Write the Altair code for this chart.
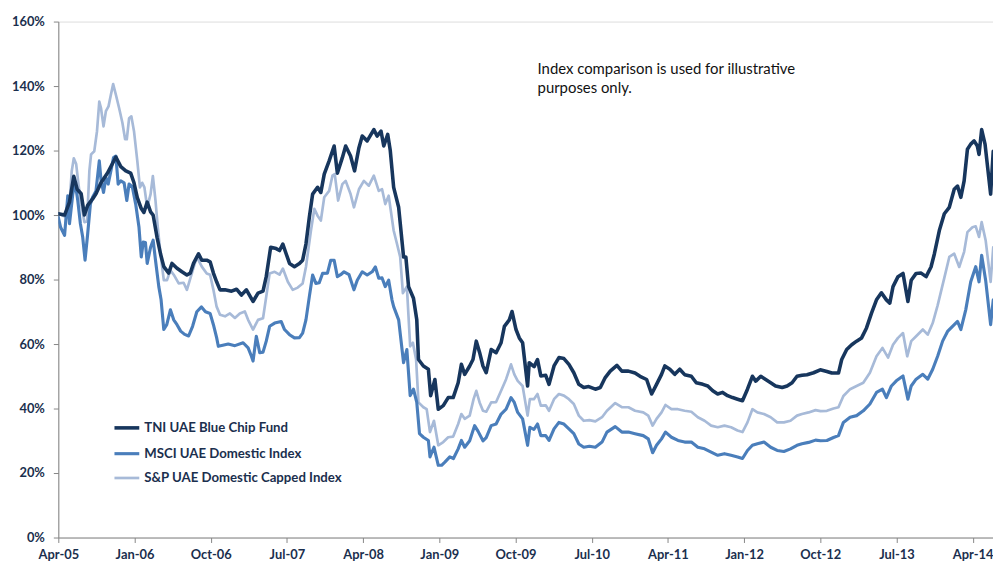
import altair as alt
import pandas as pd

# x values are months elapsed since April 2005
x_tick_values = [0, 9, 18, 27, 36, 45, 54, 63, 72, 81, 90, 99, 108]
x_tick_labels = ["Apr-05", "Jan-06", "Oct-06", "Jul-07", "Apr-08", "Jan-09", "Oct-09",
                 "Jul-10", "Apr-11", "Jan-12", "Oct-12", "Jul-13", "Apr-14"]
y_tick_values = [0, 20, 40, 60, 80, 100, 120, 140, 160]

series_names = ["TNI UAE Blue Chip Fund", "MSCI UAE Domestic Index", "S&P UAE Domestic Capped Index"]
series_colors = ["#17365D", "#4A7EBB", "#A7BAD8"]
series_widths = [3.6, 2.7, 2.9]

tni_m = [0, 0.74, 1.32, 1.83, 2.23, 2.70, 3.08, 3.47, 4.05, 4.45, 5.04, 5.81, 6.40, 6.80, 7.38, 7.97,
         8.55, 8.94, 9.33, 9.80, 10.11, 10.50, 10.90, 11.20, 11.67, 12.07, 12.46, 13.04, 13.43, 14.02,
         14.60, 15.19, 15.59, 15.97, 16.56, 16.95, 17.53, 17.93, 18.32, 18.70, 19.10, 19.69, 20.46,
         21.05, 21.63, 22.22, 23.00, 23.59, 24.18, 24.56, 25.08, 25.73, 26.13, 26.52, 26.91, 27.31,
         27.89, 28.48, 28.86, 29.25, 29.65, 30.04, 30.62, 31.01, 31.41, 31.99, 32.58, 32.96, 33.55,
         33.94, 34.52, 34.99, 35.51, 35.90, 36.48, 37.27, 37.65, 38.12, 38.44, 38.91, 39.21, 39.61,
         40.20, 40.78, 41.05, 41.37, 41.95, 42.34, 42.54, 43.12, 43.71, 43.98, 44.48, 44.88, 45.47,
         46.05, 46.64, 47.23, 47.61, 48.00, 48.59, 48.98, 49.37, 49.76, 50.16, 50.54, 51.13, 51.71,
         52.30, 52.69, 53.27, 53.59, 54.06, 54.45, 54.84, 55.43, 55.62, 56.20, 56.60, 56.99, 57.57,
         57.96, 58.55, 59.13, 59.72, 60.31, 60.89, 61.48, 62.06, 62.65, 63.43, 64.02, 64.60, 65.19,
         65.98, 66.56, 67.34, 68.12, 68.71, 69.49, 70.08, 70.66, 71.25, 71.64, 72.23, 72.81, 73.40,
         73.98, 74.77, 75.35, 76.13, 76.71, 77.30, 77.88, 78.47, 79.05, 79.64, 80.23, 80.81, 81.40,
         81.98, 82.38, 82.97, 83.55, 84.14, 84.72, 85.50, 86.08, 86.67, 87.25, 87.84, 88.43, 89.21,
         90.00, 90.78, 91.36, 92.15, 92.53, 93.12, 93.71, 94.29, 94.88, 95.46, 96.05, 96.64, 97.22,
         97.81, 98.21, 98.59, 99.18, 99.77, 100.35, 100.74, 101.32, 101.91, 102.50, 103.08, 103.48,
         104.06, 104.65, 105.24, 105.82, 106.21, 106.60, 106.99, 107.38, 107.77, 108.17, 108.55,
         108.75, 109.06, 109.46, 110.12, 110.43]
tni_v = [100.4, 100, 104, 112, 108, 106.6, 100, 103, 105, 106.6, 110, 113, 116, 118, 115, 113.7,
         113, 110, 105.4, 102, 100.8, 104, 101, 100, 93, 88, 84, 82, 85, 83.5,
         82.4, 81.4, 82, 85, 88, 86, 86, 85.5, 82, 79.3, 76.8, 76.8, 76.4,
         77, 75.2, 76.8, 73.2, 75.8, 76.4, 80.9, 90, 89.6, 89, 91, 88, 85,
         84, 85, 86, 91, 99.3, 106.5, 108.6, 107, 112.7, 116.8, 121.4, 113, 117.8,
         121.4, 118.3, 113.7, 120.9, 124.5, 123, 126.5, 124.5, 126, 121.4, 125, 120, 108.6,
         102.4, 87, 87, 77.8, 74.2, 67.5, 55.2, 53.2, 52.2, 44, 49, 39.8, 40.9,
         43.4, 43.4, 48, 53.7, 50.6, 53.2, 55.2, 60.9, 57.4, 53.2, 51.1, 58.3, 57.3,
         60.4, 65.5, 67.5, 70.1, 64.5, 61.9, 60.4, 47, 54.2, 53, 55.2, 50.1, 50.3,
         47.5, 53.2, 55.8, 55.5, 53.7, 51.1, 47.5, 46.5, 46.8, 46, 46.5, 49.6, 51.6,
         53.4, 51.6, 51.6, 51, 50, 49, 44.5, 47.5, 50.6, 53.2, 52.2, 50.6, 52.2,
         50.5, 50, 48, 47.5, 47, 45.5, 44.5, 45, 44, 43.4, 42.9, 42.4, 46,
         50, 48.5, 50, 49, 48, 47, 46.5, 47, 48, 50, 50.3, 50.5, 51.1,
         52, 51.5, 51, 51, 55.2, 58.3, 59.8, 60.9, 61.9, 65, 69.6, 73.7, 75.9,
         73.7, 72.7, 77.8, 80.9, 81.9, 73.2, 79.8, 81.9, 82, 80.9, 83.9, 88,
         95.2, 100.4, 102.4, 108, 109, 105.5, 110.6, 120.4, 122, 123, 121.4,
         118.8, 126.5, 122, 106.5, 119.8]

msci_m = [0, 0.27, 0.74, 1.12, 1.32, 1.71, 1.99, 2.30, 2.61, 2.88, 3.16, 3.47, 3.79, 4.05, 4.45,
          4.84, 5.04, 5.34, 5.62, 5.89, 6.21, 6.52, 6.80, 7.07, 7.38, 7.77, 8.09, 8.36, 8.74, 9.14,
          9.53, 9.80, 10.03, 10.29, 10.50, 10.90, 11.20, 11.48, 11.87, 12.14, 12.46, 12.81, 13.24,
          13.63, 14.02, 14.45, 14.92, 15.39, 15.86, 16.36, 16.91, 17.38, 17.93, 18.32, 18.70, 18.90,
          20.07, 20.86, 21.83, 22.42, 22.81, 23.00, 23.39, 23.79, 24.18, 24.56, 24.96, 25.55, 26.32,
          26.72, 27.31, 27.89, 28.48, 28.86, 29.25, 29.65, 30.04, 30.42, 30.82, 31.21, 31.79, 32.18,
          32.58, 32.96, 33.35, 33.75, 34.34, 34.92, 35.31, 35.90, 36.48, 37.07, 37.45, 37.85, 38.24,
          38.62, 39.02, 39.41, 39.61, 40.20, 40.78, 41.17, 41.56, 41.95, 42.34, 42.66, 43.12, 43.71,
          43.90, 44.37, 44.88, 45.27, 45.66, 46.24, 46.67, 47.23, 47.61, 48.00, 48.59, 49.17, 49.57,
          50.16, 50.54, 51.13, 51.71, 52.30, 52.89, 53.47, 53.86, 54.26, 54.84, 55.43, 55.70, 56.17,
          56.60, 56.99, 57.57, 57.96, 58.55, 59.13, 59.72, 60.31, 60.89, 61.48, 62.06, 62.73, 63.43,
          64.22, 64.80, 65.78, 66.56, 67.34, 68.12, 69.09, 69.68, 70.20, 70.66, 71.25, 71.72, 72.42,
          73.19, 73.98, 74.77, 75.54, 76.33, 77.11, 77.89, 78.68, 79.46, 80.23, 80.81, 81.40, 81.98,
          82.57, 83.35, 84.14, 84.91, 85.70, 86.48, 87.25, 87.84, 88.62, 89.44, 90.03, 90.78, 91.56,
          92.15, 92.73, 93.52, 94.29, 95.08, 95.86, 96.64, 97.34, 97.81, 98.40, 98.98, 99.77, 100.35,
          100.74, 101.32, 102.11, 102.69, 103.28, 103.86, 104.45, 105.03, 105.62, 106.21, 106.60,
          107.18, 107.77, 108.36, 108.75, 109.06, 109.53, 110.12, 110.43]
msci_v = [99.3, 96.2, 93.7, 106, 97.3, 106.5, 110, 104.5, 97.3, 93.2, 86, 94.2, 103.4, 105.5, 107.5,
          116.8, 111, 107, 111.6, 109.6, 113.7, 117.8, 118.3, 109.6, 110.6, 110, 104.5, 109.6, 108.8, 103.4,
          96.2, 87, 91.6, 91.5, 85, 90, 92.2, 86, 77.8, 73.7, 64.5, 66, 70.6,
          67.5, 66, 64, 63, 62.5, 65.5, 70, 71.5, 70, 69.5, 66, 62, 59.3,
          60, 59.5, 60.4, 58.8, 56.2, 54.7, 62.4, 57.3, 57.5, 60.9, 65.5, 66.5, 67,
          64.5, 62.9, 61.9, 62, 63.4, 67.5, 74.7, 81.4, 78.8, 79, 81.9, 82, 86,
          86, 80.9, 81.5, 82.4, 81.5, 76.8, 79.8, 82.4, 81.4, 82.4, 83.9, 80.4, 80.5,
          77.8, 79.8, 73.7, 71.6, 67.5, 54.2, 58.3, 44, 46, 41.9, 32.2, 31.1, 30.1,
          25, 28, 22.4, 22.4, 23.4, 25, 24.5, 27.5, 30.1, 28, 30, 34.7, 33,
          30, 31, 34.7, 35.2, 38.3, 39.8, 43.4, 41.9, 38.8, 36.8, 28.6, 34.2, 33.5,
          35.2, 31.6, 31.6, 30.1, 33.7, 35.7, 35.2, 33.7, 32.2, 29, 28, 28.3, 28,
          29.6, 32.7, 34.4, 32.7, 32.7, 32.2, 31.6, 30.6, 26.3, 28.6, 30.6, 32.7, 31.1,
          30.1, 29.6, 29.6, 28, 27.5, 26.5, 25.5, 26, 25.5, 25, 24.5, 27, 28.6,
          29.1, 29.6, 28, 27, 26.7, 27.5, 28.6, 29.1, 29.5, 30.2, 30, 30.1, 31,
          31.6, 35.7, 37.3, 37.8, 39.3, 41.4, 45, 46, 43.4, 47, 48.6, 50.1, 42.9,
          47, 49.1, 50.6, 49.1, 52.2, 56.2, 60.9, 63.9, 65.5, 67, 64.5,
          70.6, 79.3, 84, 79.3, 87.5, 79.8, 66, 73.7]

sp_m = [0, 0.54, 1.05, 1.32, 1.59, 1.83, 2.11, 2.38, 2.70, 3.08, 3.40, 3.67, 3.87, 4.25, 4.57, 4.84,
        5.04, 5.34, 5.62, 5.93, 6.21, 6.48, 6.80, 7.18, 7.57, 7.89, 8.09, 8.36, 8.63, 8.94, 9.33,
        9.64, 9.91, 10.17, 10.50, 10.90, 11.17, 11.48, 11.75, 12.07, 12.46, 12.84, 13.24, 13.63,
        14.22, 14.80, 15.19, 15.77, 16.36, 16.95, 17.53, 17.93, 18.32, 18.70, 19.10, 19.69, 20.27,
        20.86, 21.44, 22.03, 22.42, 23.00, 23.59, 24.18, 24.56, 24.96, 25.55, 26.13, 26.52, 27.11,
        27.69, 28.28, 28.86, 29.25, 29.84, 30.24, 30.62, 31.01, 31.41, 31.99, 32.38, 32.65, 33.05,
        33.55, 33.94, 34.52, 34.92, 35.51, 36.09, 36.68, 37.27, 37.85, 38.24, 38.62, 39.02, 39.61,
        40.00, 40.38, 40.70, 41.17, 41.56, 41.88, 42.26, 42.54, 43.12, 43.51, 43.90, 44.37, 44.88,
        45.47, 46.05, 46.64, 47.23, 47.61, 48.00, 48.59, 49.05, 49.37, 49.76, 50.16, 50.54, 51.13,
        51.71, 52.30, 52.89, 53.47, 53.86, 54.26, 54.84, 55.43, 55.70, 56.17, 56.60, 56.99, 57.57,
        57.96, 58.55, 59.13, 59.72, 60.31, 60.89, 61.48, 62.06, 62.73, 63.43, 64.22, 64.80, 65.78,
        66.56, 67.34, 68.12, 69.09, 69.68, 70.20, 70.66, 71.25, 71.72, 72.42, 73.19, 73.98, 74.77,
        75.54, 76.33, 77.11, 77.89, 78.68, 79.46, 80.23, 80.81, 81.40, 81.98, 82.57, 83.35, 84.14,
        84.91, 85.70, 86.48, 87.25, 87.84, 88.62, 89.44, 90.03, 90.78, 91.56, 92.15, 92.73, 93.52,
        94.29, 95.08, 95.86, 96.64, 97.34, 98.01, 98.59, 99.18, 99.77, 100.27, 100.74, 101.32,
        102.11, 102.69, 103.28, 103.86, 104.65, 105.24, 105.82, 106.41, 106.99, 107.38, 107.97,
        108.36, 108.75, 109.06, 109.53, 110.12, 110.43]
sp_v = [100.5, 99.8, 99.3, 103.5, 113.7, 117.6, 115.8, 109.6, 103.4, 97.8, 98, 113.7, 118.8, 119.8, 126, 135.2,
        133.2, 127.5, 132.2, 133.7, 137.3, 140.6, 137.3, 133.2, 128.6, 123.5, 123.5, 130, 130.6, 126, 116.8,
        108.6, 110, 108.6, 102.4, 106.5, 112.1, 104.5, 96.2, 88, 79.8, 79.8, 82.9, 81.5,
        78.8, 79, 76.8, 81.9, 87, 84, 81.9, 81.5, 76.8, 71.6, 69.1, 68.6, 69.5,
        68.1, 69.5, 70.1, 67.5, 64.5, 67.5, 68, 74.7, 81.9, 82.4, 81.5, 83.4, 79.3,
        76.8, 77.5, 78.8, 83.9, 95.2, 101.9, 99.8, 98.3, 105.5, 107.5, 112.2, 112.7, 104.5,
        109.6, 110.6, 106.5, 102.4, 108, 110.6, 109.1, 112.2, 107.5, 108, 103.4, 106, 95.2,
        91.1, 87, 75.8, 77.8, 59.3, 60.4, 55.2, 41.9, 40.4, 39.8, 32.7, 36.2, 28.6,
        29.6, 31.1, 31.3, 35.2, 38.3, 36.8, 37.8, 42.9, 45.5, 41.9, 39.3, 39, 41.9,
        42, 45.5, 49.1, 53.7, 50.6, 48.6, 47, 37.8, 42.9, 42.9, 44.5, 40.9, 41,
        39.3, 42.9, 44.5, 44, 42.9, 41.4, 37.8, 36.2, 36.4, 36, 37.3, 39.3, 41.7,
        40.4, 40.4, 39.3, 38.8, 37.8, 34.7, 36.8, 38.8, 41.1, 39.8, 39.8, 39.3, 39,
        37.3, 36.2, 34.7, 34.2, 34.7, 34.2, 33.2, 32.7, 35.7, 39.8, 38.8, 38.3, 37.3,
        35.7, 35.7, 36.2, 37.8, 38.3, 38.8, 39.5, 39.2, 39.3, 40, 40.4, 43.9, 46,
        47, 48, 51.1, 56.2, 58.8, 55.8, 59.8, 61.9, 63.4, 56.2, 60.9, 62.4,
        64.5, 62.9, 66.5, 72, 80.5, 87, 88, 83.9, 88.6, 94.7, 96.2,
        96.5, 93.2, 97.8, 92.2, 79.3, 90]

note_lines = ["Index comparison is used for illustrative", "purposes only."]

# ---- long table (draw order: S&P, MSCI, TNI on top) ----
frames = []
for name, ms, vs, order in [(series_names[2], sp_m, sp_v, 0),
                            (series_names[1], msci_m, msci_v, 1),
                            (series_names[0], tni_m, tni_v, 2)]:
    frames.append(pd.DataFrame({"month": ms, "value": vs, "series": name, "order": order}))
df = pd.concat(frames, ignore_index=True)

label_expr = "[" + ",".join("'" + s + "'" for s in x_tick_labels) + "][round(datum.value / 9)]"

axis_color = "#868686"
label_color = "#1B2F4E"
FONT = "Lato"

lines = alt.Chart(df).mark_line(clip=True, strokeJoin="round", strokeCap="round").encode(
    x=alt.X("month:Q",
            scale=alt.Scale(domain=[0, 110.4], nice=False, zero=False),
            axis=alt.Axis(values=x_tick_values, labelExpr=label_expr, title=None, grid=False,
                          domainColor=axis_color, tickColor=axis_color, tickSize=5,
                          labelFont=FONT, labelFontWeight="bold", labelFontSize=13,
                          labelColor=label_color, labelPadding=6, labelFlush=False,
                          labelOverlap=False)),
    y=alt.Y("value:Q",
            scale=alt.Scale(domain=[0, 160], nice=False),
            axis=alt.Axis(values=y_tick_values, labelExpr="datum.value + '%'", title=None, grid=False,
                          domainColor=axis_color, tickColor=axis_color, tickSize=5,
                          labelFont=FONT, labelFontWeight="bold", labelFontSize=13,
                          labelColor=label_color, labelPadding=9)),
    color=alt.Color("series:N",
                    scale=alt.Scale(domain=series_names, range=series_colors),
                    legend=alt.Legend(title=None, orient="none", legendX=54.6, legendY=395,
                                      symbolType="stroke", symbolSize=625, symbolStrokeWidth=3.2,
                                      labelFont=FONT, labelFontWeight="bold", labelFontSize=13.3,
                                      labelColor=label_color, labelOffset=3, rowPadding=4,
                                      padding=0, labelLimit=400)),
    strokeWidth=alt.StrokeWidth("series:N",
                                scale=alt.Scale(domain=series_names, range=series_widths),
                                legend=None),
    order=alt.Order("order:Q"),
    detail="series:N",
)

note = alt.Chart(pd.DataFrame({"t": [0]})).mark_text(
    align="left", baseline="middle", font=FONT, fontSize=15, color="#111111",
    lineHeight=20, text=note_lines
).encode(x=alt.value(483), y=alt.value(47.5))

chart = alt.layer(lines, note).properties(
    width=942, height=520,
    autosize=alt.AutoSizeParams(type="none"),
    padding={"left": 50.7, "top": 11.5, "right": 0, "bottom": 22},
).configure_view(stroke=None).configure(background="white")

chart.save("out.html", embed_options={"renderer": "svg", "actions": False})
